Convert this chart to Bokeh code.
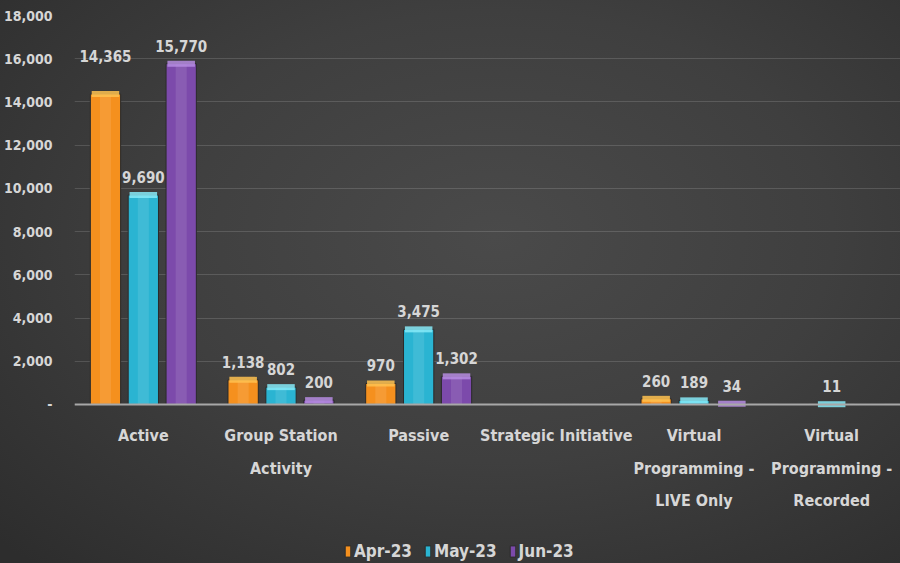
from bokeh.plotting import figure
from bokeh.models import (ColumnDataSource, FactorRange, Legend, LegendItem,
                          FixedTicker, NumeralTickFormatter, Range1d, Span)
from bokeh.transform import dodge
from bokeh.core.properties import value
from bokeh.embed import file_html
from bokeh.resources import INLINE

categories = ["Active", "Group Station\nActivity", "Passive", "Strategic Initiative",
              "Virtual\nProgramming -\nLIVE Only", "Virtual\nProgramming -\nRecorded"]
series = ["Apr-23", "May-23", "Jun-23"]
apr = [14365, 1138, 970, 0, 260, 0]
may = [9690, 802, 3475, 0, 189, 11]
jun = [15770, 200, 1302, 0, 34, 0]
y_ticks = [0, 2000, 4000, 6000, 8000, 10000, 12000, 14000, 16000, 18000]

colors = ["#f5901e", "#2ab4d2", "#7c4aab"]
caps = ["#ffc250", "#86eaf8", "#b68ce2"]
FONT = "DejaVu Sans Condensed"
TXT = "#d6d6d6"

p = figure(width=900, height=563, x_range=FactorRange(factors=categories),
           y_range=Range1d(-7360, 18000), output_backend="svg", toolbar_location=None,
           min_border_left=73, min_border_right=0, min_border_top=15,
           min_border_bottom=0)
p.styles = {"background": "radial-gradient(ellipse 75% 80% at 55% 42%, #4a4a4a 0%, "
                          "#3f3f3f 50%, #2d2d2d 100%)"}
p.background_fill_color = None
p.border_fill_color = None
p.outline_line_color = None
p.xaxis.visible = False

data = dict(cat=categories, apr=apr, may=may, jun=jun)
src = ColumnDataSource(data)
offsets = [-0.275, 0.0, 0.275]
keys = ["apr", "may", "jun"]
items = []
for k, off, c, cap, name in zip(keys, offsets, colors, caps, series):
    xs = dodge("cat", off, range=p.x_range)
    r = p.vbar(x=xs, top=k, width=0.22, source=src,
               fill_color=c, line_color="#2a2a2a", line_width=1)
    p.vbar(x=xs, top=k, width=0.08, source=src,
           fill_color="white", fill_alpha=0.10, line_color=None)
    items.append(LegendItem(label=name, renderers=[r]))
    vals = data[k]
    nz = [i for i, v in enumerate(vals) if v > 0]
    lab = dict(cat=[categories[i] for i in nz],
               v=[vals[i] for i in nz],
               t=[f"{vals[i]:,}" for i in nz],
               dy=[-32 if (k == "apr" and i == 0) else -12 for i in nz])
    lsrc = ColumnDataSource(lab)
    p.rect(x=xs, y="v", width=0.2, height=6, height_units="screen", source=lsrc,
           fill_color=cap, fill_alpha=0.85, line_color=None)
    p.text(x=xs, y="v", text="t", source=lsrc, y_offset="dy",
           text_align="center", text_baseline="bottom",
           text_color=TXT, text_font=value(FONT), text_font_size="15px",
           text_font_style="bold")

csrc = ColumnDataSource(dict(cat=categories, y=[0] * len(categories)))
p.text(x="cat", y="y", text="cat", source=csrc, y_offset=22,
       text_align="center", text_baseline="top", text_line_height=1.7,
       text_color=TXT, text_font=value(FONT), text_font_size="16px",
       text_font_style="bold")

p.add_layout(Span(location=0, dimension="width", line_color="#a8a8a8", line_width=2))

p.xgrid.grid_line_color = None
p.ygrid.grid_line_color = "white"
p.ygrid.grid_line_alpha = 0.14
p.ygrid.grid_line_width = 1
p.yaxis.ticker = FixedTicker(ticks=y_ticks)
p.yaxis.formatter = NumeralTickFormatter(format="0,0")
p.yaxis.major_label_overrides = {0: "-"}
p.yaxis.axis_line_color = None
p.yaxis.major_tick_line_color = None
p.yaxis.minor_tick_line_color = None
p.yaxis.major_label_text_color = TXT
p.yaxis.major_label_text_font = FONT
p.yaxis.major_label_text_font_size = "14px"
p.yaxis.major_label_text_font_style = "bold"
p.yaxis.major_label_standoff = 16

legend = Legend(items=items, orientation="horizontal", location=(270, 2),
                background_fill_alpha=0, border_line_color=None,
                label_text_color=TXT, label_text_font=FONT,
                label_text_font_size="17px", label_text_font_style="bold",
                glyph_width=7, glyph_height=14, spacing=12, padding=0,
                margin=0, label_standoff=3)
p.add_layout(legend, "center")

open("out.html", "w").write(file_html(p, INLINE))
